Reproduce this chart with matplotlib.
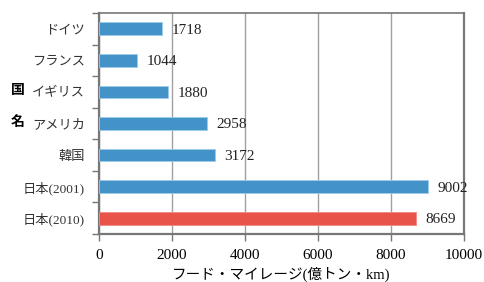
import matplotlib
matplotlib.use("Agg")
import matplotlib.pyplot as plt
import numpy as np
from matplotlib.ticker import FixedLocator

categories = ["ドイツ", "フランス", "イギリス", "アメリカ", "韓国", "日本(2001)", "日本(2010)"]
values = [1718, 1044, 1880, 2958, 3172, 9002, 8669]
colors = ["#4393C9"] * 6 + ["#E8534A"]
xticks = [0, 2000, 4000, 6000, 8000, 10000]
xlabel = "フード・マイレージ(億トン・km)"

plt.rcParams['font.family'] = ['Liberation Serif', 'Noto Sans CJK JP', 'DejaVu Sans']

fig = plt.figure(figsize=(4.85, 2.82), dpi=100)
ax = fig.add_axes([0.204, 0.170, 0.753, 0.784])

y = np.arange(len(categories))
bars = ax.barh(y, values, height=0.4, color=colors, edgecolor="#9CCBEA", linewidth=0.6, zorder=3)
bars[-1].set_edgecolor("#F08A82")
for yi, v in zip(y, values):
    ax.annotate(f"{v}", (v, yi), xytext=(7, -1), textcoords="offset points",
                ha="left", va="center", fontsize=11, color="#222222")

ax.set_ylim(len(categories) - 0.5, -0.5)
ax.set_xlim(0, 10000)
ax.set_xticks(xticks)
ax.set_xticklabels([str(t) for t in xticks], fontsize=11)
ax.set_yticks(y)
ax.set_yticklabels(categories, fontsize=9.5, color="#333333")
ax.yaxis.set_minor_locator(FixedLocator(np.arange(-0.5, len(categories), 1.0)))
ax.tick_params(axis="y", which="major", length=0, pad=10)
ax.tick_params(axis="y", which="minor", length=5, width=1, color="#777777")
ax.tick_params(axis="x", length=5, width=1, color="#777777", pad=6)
ax.grid(axis="x", color="#A0A0A0", linewidth=1.0, zorder=0)
ax.set_axisbelow(True)
for s in ["left", "right", "top", "bottom"]:
    ax.spines[s].set_color("#777777")
    ax.spines[s].set_linewidth(1.6)
ax.spines["top"].set_linewidth(1.2)
ax.set_xlabel(xlabel, fontsize=10.5, labelpad=3)

fig.text(0.036, 0.681, "国", fontsize=10, fontweight="bold", ha="center", va="center",
         family=['Noto Sans CJK JP'])
fig.text(0.036, 0.567, "名", fontsize=10, fontweight="bold", ha="center", va="center",
         family=['Noto Sans CJK JP'])

fig.savefig("out.png", dpi=100)
